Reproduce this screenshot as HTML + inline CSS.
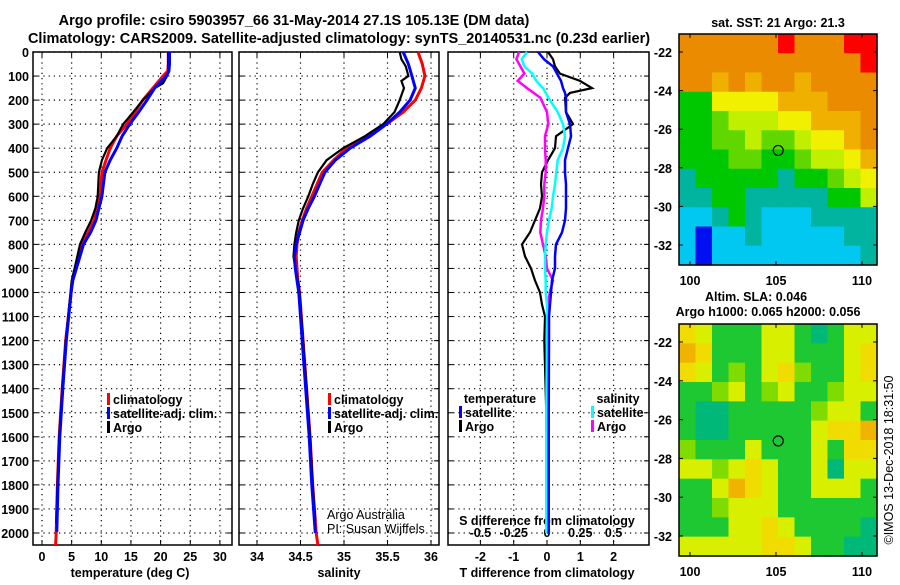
<!DOCTYPE html>
<html><head><meta charset="utf-8"><style>
body{margin:0;background:#fff;}
svg text{font-family:"Liberation Sans",sans-serif;font-weight:bold;font-size:12.5px;fill:#000;}
svg text.nb{font-weight:normal;}
</style></head><body>
<svg id="c" width="900" height="580" viewBox="0 0 900 580" xmlns="http://www.w3.org/2000/svg">
<text x="294" y="25" text-anchor="middle" style="font-size:14.5px">Argo profile: csiro 5903957_66 31-May-2014 27.1S 105.13E (DM data)</text>
<text x="339" y="43" text-anchor="middle" style="font-size:14.5px">Climatology: CARS2009. Satellite-adjusted climatology: synTS_20140531.nc (0.23d earlier)</text>
</svg>
<script>
// ---- data ----
const tDepth=[0,50,80,100,150,200,250,300,350,400,450,500,600,650,700,750,800,900,950,1000,1200,1400,1600,1800,2000,2050];
const tClim=[21.3,21.3,21.2,20.4,18.7,17.0,15.7,14.3,12.6,11.5,10.8,10.1,9.8,9.3,8.8,7.8,6.7,5.7,5.1,4.9,4.0,3.4,2.9,2.6,2.4,2.3];
const tSatDepth=[0,50,80,100,150,200,250,300,350,400,450,500,600,650,700,750,800,900,950,1000,1200,1400,1600,1800,1995];
const tSat=[21.5,21.5,21.4,21.0,19.0,17.7,16.3,14.8,13.5,12.6,11.5,10.6,10.1,9.6,9.1,8.2,7.0,5.8,5.2,4.9,4.1,3.5,3.0,2.7,2.5];
const tArgoDepth=[0,50,80,100,130,150,200,250,300,350,400,450,500,600,650,700,750,800,900,950,1000,1200,1400,1600,1800,1960];
const tArgo=[21.3,21.3,21.3,21.1,20.4,19.0,17.0,15.4,13.7,12.6,11.0,10.1,9.6,9.4,9.0,8.3,7.3,6.4,5.5,5.0,4.8,4.0,3.4,2.9,2.6,2.4];
const sDepth=[0,50,100,150,200,250,300,350,400,450,500,550,600,650,700,750,800,850,900,950,1000,1200,1400,1600,1800,2000,2050];
const sClim=[35.85,35.90,35.93,35.89,35.82,35.68,35.49,35.26,35.03,34.88,34.75,34.69,34.63,34.57,34.52,34.48,34.46,34.45,34.46,34.47,34.49,34.53,34.57,34.61,34.64,34.68,34.70];
const sSat=[35.68,35.74,35.78,35.82,35.76,35.64,35.49,35.30,35.07,34.90,34.78,34.72,34.66,34.59,34.53,34.49,34.45,34.43,34.44,34.46,34.48,34.52,34.56,34.60,34.63,34.67];
const sArgoDepth=[0,30,60,100,120,150,180,200,250,300,350,400,450,500,550,600,650,700,750,800,850,900,950,1000,1200,1400,1600,1800,1950];
const sArgo=[35.64,35.66,35.71,35.74,35.66,35.69,35.66,35.64,35.58,35.45,35.24,34.99,34.80,34.70,34.64,34.59,34.53,34.48,34.45,34.43,34.42,34.44,34.47,34.49,34.53,34.57,34.61,34.64,34.67];
const dDepth=[0,30,60,90,120,150,170,190,250,300,350,400,450,500,550,600,650,700,750,800,850,900,950,1000,1050,1100,1200,1500,2000];
const dTArgo=[0.03,0.18,0.24,0.39,0.99,1.35,0.69,0.54,0.57,0.78,0.27,0.24,0.03,-0.15,-0.18,-0.15,-0.21,-0.36,-0.51,-0.75,-0.66,-0.48,-0.36,-0.21,-0.15,-0.06,-0.08,-0.02,0.0];
const dTSat=[-0.27,-0.09,0.18,0.30,0.42,0.48,0.54,0.57,0.57,0.69,0.72,0.63,0.54,0.54,0.57,0.57,0.57,0.54,0.45,0.27,0.24,0.24,0.15,0.12,0.09,0.06,0.06,0.05,0.05];
const dSSat=[-0.15,-0.19,-0.17,-0.11,-0.08,-0.03,-0.01,0.01,0.08,0.12,0.135,0.12,0.08,0.07,0.06,0.045,0.035,0.015,0.0,-0.01,-0.015,-0.015,-0.01,-0.01,0,0,0,-0.005,-0.005];
const dSArgo=[-0.21,-0.23,-0.20,-0.17,-0.22,-0.15,-0.1,-0.05,0.0,0.01,-0.015,-0.015,-0.01,-0.01,-0.02,-0.02,-0.03,-0.045,-0.05,-0.03,-0.01,0.0,0.045,0.02,0.01,0.005,0.0,0.0,0.0];
const depthTicks=[0,100,200,300,400,500,600,700,800,900,1000,1100,1200,1300,1400,1500,1600,1700,1800,1900,2000];
const tTicks=[0,5,10,15,20,25,30];
const sTicks=[34,34.5,35,35.5,36];
const dTTicks=[-2,-1,0,1,2];
const dSTicks=[-0.5,-0.25,0,0.25,0.5];
const latTicks=[-22,-24,-26,-28,-30,-32];
const lonTicks=[100,105,110];
const sstGrid=[
[8,8,8,8,8,8,9,8,8,8,9,9],
[8,8,8,8,8,8,8,8,8,8,8,9],
[8,8,7,8,7,8,8,7,8,8,8,8],
[3,3,6,6,6,6,7,7,7,8,8,8],
[3,3,4,5,5,5,6,6,7,7,7,8],
[3,3,4,4,5,4,4,5,6,6,7,8],
[3,3,3,4,4,3,3,4,5,5,6,7],
[2,3,3,3,3,3,2,3,3,4,5,6],
[2,2,3,3,2,2,2,2,2,3,3,5],
[1,1,2,3,2,1,1,1,2,2,2,2],
[1,0,1,1,2,1,1,1,1,1,2,2],
[1,0,1,1,1,1,1,1,1,1,1,2]];
const slaGrid=[
[6,5,3,3,3,5,5,3,2,3,5,5],
[7,6,3,3,3,5,5,3,3,3,5,6],
[6,5,3,4,3,5,6,4,3,3,5,6],
[3,3,4,5,3,4,5,3,3,4,5,5],
[3,2,2,3,3,3,3,3,4,5,5,3],
[3,2,2,3,3,3,3,3,5,6,6,7],
[4,3,3,3,5,3,3,3,5,3,6,6],
[5,5,4,5,6,5,3,3,5,2,5,5],
[3,3,5,7,6,5,3,3,5,5,5,3],
[3,3,4,5,5,5,3,3,3,3,3,3],
[3,3,3,5,5,6,5,3,3,3,3,2],
[5,5,5,5,5,6,6,5,3,3,2,2]];
const argoLon=105.13, argoLat=-27.1;

// ---- drawing ----
const svg=document.getElementById('c');
const NS='http://www.w3.org/2000/svg';
function mk(tag,attrs,parent){const e=document.createElementNS(NS,tag);for(const k in attrs)e.setAttribute(k,attrs[k]);(parent||svg).appendChild(e);return e;}
const Y0=52, YK=0.2405, YB=545;
const yD=d=>Y0+d*YK;
const xT=v=>42+5.93*v;
const xS=v=>257+87*(v-34);
const xDT=v=>547+33.3*v;
const xDS=v=>547+133.2*v;
const panels=[{x0:33,x1:232,name:'temperature-panel'},{x0:239,x1:439,name:'salinity-panel'},{x0:448,x1:649,name:'difference-panel'}];
const xGrid=[tTicks.map(xT),sTicks.map(xS),dTTicks.map(xDT)];
panels.forEach((p,i)=>{
  const g=mk('g',{});
  
  
  depthTicks.forEach(d=>{
    const y=yD(d);
    const l=mk('line',{x1:p.x0,x2:p.x1,y1:y,y2:y,stroke:'#000','stroke-width':1.2,'stroke-dasharray':'1.2,4'},g);
    
    
    mk('line',{x1:p.x0,x2:p.x0+5,y1:y,y2:y,stroke:'#000'},g);
    mk('line',{x1:p.x1-5,x2:p.x1,y1:y,y2:y,stroke:'#000'},g);
  });
  xGrid[i].forEach(x=>{
    const l=mk('line',{x1:x,x2:x,y1:Y0,y2:YB,stroke:'#000','stroke-width':1.2,'stroke-dasharray':'1.2,4'},g);
    
    
    mk('line',{x1:x,x2:x,y1:YB-5,y2:YB,stroke:'#000'},g);
    mk('line',{x1:x,x2:x,y1:Y0,y2:Y0+5,stroke:'#000'},g);
  });
  const r=mk('rect',{x:p.x0,y:Y0,width:p.x1-p.x0,height:YB-Y0,fill:'none',stroke:'#000','stroke-width':1.5},g);
  
  
});
depthTicks.forEach(d=>{
  const t=mk('text',{x:29,y:yD(d)+5,'text-anchor':'end'});t.textContent=d;
  
  
});
function ticks(arr,fx,y,nm){arr.forEach(v=>{const t=mk('text',{x:fx(v),y:y,'text-anchor':'middle'});t.textContent=v;
  
  });}
ticks(tTicks,xT,561,'temperature-tick-label');
ticks(sTicks,xS,561,'salinity-tick-label');
ticks(dTTicks,xDT,561,'t-diff-tick-label');
ticks(dSTicks,xDS,537,'s-diff-tick-label');
function label(txt,x,y,nm,extra,cls){const t=mk('text',Object.assign({x:x,y:y,'text-anchor':'middle'},extra||{}));t.textContent=txt;
  if(cls)t.setAttribute('class',cls);
  
  return t;}
label('temperature (deg C)',130,577,'x-axis-title-temperature');
label('salinity',339,577,'x-axis-title-salinity');
label('T difference from climatology',547,577,'x-axis-title-t-diff');
label('S difference from climatology',547,525,'s-diff-axis-title');
label('Argo Australia',327,519,'credit-argo-australia',{'text-anchor':'start'},'nb');
label('PI: Susan Wijffels',327,533,'credit-pi',{'text-anchor':'start'},'nb');

function series(xs,ds,fx,color,w,nm){
  const pts=xs.map((v,i)=>fx(v).toFixed(1)+','+yD(ds[i]).toFixed(1)).join(' ');
  const pl=mk('polyline',{points:pts,fill:'none',stroke:color,'stroke-width':w,'stroke-linejoin':'miter'});
  
  
}
series(tClim,tDepth,xT,'#f00',3,'temperature-climatology-line');
series(tArgo,tArgoDepth,xT,'#000',2.2,'temperature-argo-line');
series(tSat,tSatDepth,xT,'#00f',3,'temperature-satellite-line');
series(sClim,sDepth,xS,'#f00',3,'salinity-climatology-line');
series(sArgo,sArgoDepth,xS,'#000',2.2,'salinity-argo-line');
series(sSat,sDepth.slice(0,sSat.length),xS,'#00f',3,'salinity-satellite-line');
series(dTArgo,dDepth,xDT,'#000',2.2,'t-diff-argo-line');
series(dSArgo,dDepth,xDS,'#f0f',2.5,'s-diff-argo-line');
series(dSSat,dDepth,xDS,'#0ff',2.5,'s-diff-satellite-line');
series(dTSat,dDepth,xDT,'#00f',2.5,'t-diff-satellite-line');

function legend(x,y,items,nm){
  items.forEach((it,i)=>{
    const yy=y+i*14;
    if(it[1]){const m=mk('rect',{x:x,y:yy-6,width:3,height:12,fill:it[1]});
      
      }
    const t=mk('text',{x:x+(it[1]?6:0),y:yy+5});t.textContent=it[0];
    
    
  });
}
legend(107,399,[['climatology','#f00'],['satellite-adj. clim.','#00f'],['Argo','#000']],'temperature-legend');
legend(328,399,[['climatology','#f00'],['satellite-adj. clim.','#00f'],['Argo','#000']],'salinity-legend');
label('temperature',500,403,'diff-legend-temperature-heading');
label('salinity',618,403,'diff-legend-salinity-heading');
legend(459,412,[['satellite','#00f'],['Argo','#000']],'t-diff-legend');
legend(591,412,[['satellite','#0ff'],['Argo','#f0f']],'s-diff-legend');

// maps
const sstCols=['#0010f0','#00c8f0','#00b4a0','#00c800','#60d800','#c0f000','#f0f000','#f0b000','#eb8c00','#ff0000'];
const slaCols=['#00c800','#00c800','#00b878','#1ec832','#80dc00','#d8f000','#f0dc00','#f0b400'];
function drawMap(grid,cols,fy,top,bot,nm){
  const g=mk('g',{});
  
  
  const x0=679,x1=877,rows=grid.length,nc=grid[0].length;
  const cw=(x1-x0)/nc, ch=(bot-top)/rows;
  grid.forEach((row,r)=>row.forEach((v,c)=>{
    const cell=mk('rect',{x:x0+c*cw,y:top+r*ch,width:cw+0.6,height:ch+0.6,fill:cols[v]},g);
    
    
  }));
  const fr=mk('rect',{x:x0,y:top,width:x1-x0,height:bot-top,fill:'none',stroke:'#000','stroke-width':1.5},g);
  
  
  const fx=lon=>690+17.2*(lon-100);
  latTicks.forEach(l=>{const y=fy(l);mk('line',{x1:x0,x2:x0+4,y1:y,y2:y,stroke:'#000'},g);mk('line',{x1:x1-4,x2:x1,y1:y,y2:y,stroke:'#000'},g);
    const t=mk('text',{x:672,y:y+5,'text-anchor':'end'},g);t.textContent=l;
    
    });
  lonTicks.forEach(l=>{const x=fx(l);mk('line',{x1:x,x2:x,y1:bot-4,y2:bot,stroke:'#000'},g);mk('line',{x1:x,x2:x,y1:top,y2:top+4,stroke:'#000'},g);
    const t=mk('text',{x:x,y:bot+20,'text-anchor':'middle'},g);t.textContent=l;
    
    });
  const c=mk('circle',{cx:fx(argoLon),cy:fy(argoLat),r:5,fill:'none',stroke:'#000','stroke-width':1.2},g);
  
  
}
drawMap(sstGrid,sstCols,lat=>52+19.3*(-22-lat),34,265,'sst-map');
drawMap(slaGrid,slaCols,lat=>342+19.4*(-22-lat),324,556,'sla-map');
label('sat. SST: 21 Argo: 21.3',778,27,'sst-map-title');
label('Altim. SLA: 0.046',756,301,'sla-map-title');
label('Argo h1000: 0.065 h2000: 0.056',768,316,'sla-map-subtitle');
const ts=mk('text',{x:0,y:0,'text-anchor':'middle',class:'nb',transform:'translate(893,460) rotate(-90)'});
ts.textContent='©IMOS 13-Dec-2018 18:31:50';


</script>
</body></html>
